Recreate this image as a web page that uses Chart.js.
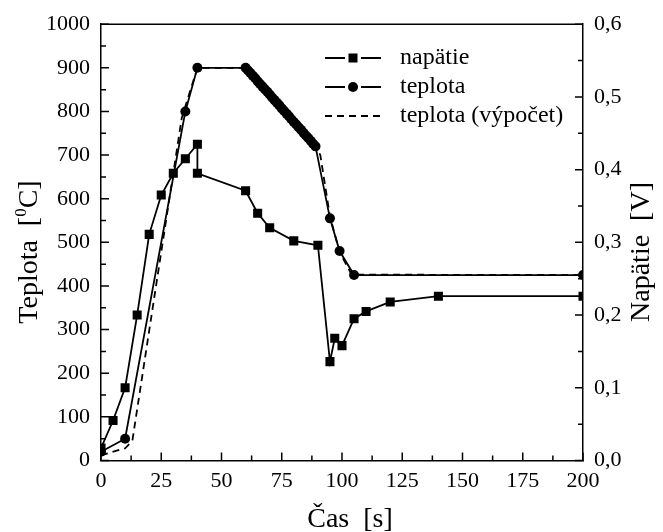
<!DOCTYPE html>
<html lang="sk">
<head>
<meta charset="UTF-8">
<title>Teplota a napätie</title>
<script src="https://cdn.jsdelivr.net/npm/chart.js"></script>
<style>
  body { margin: 0; background: #fff; }
  canvas { display: block; }
</style>
</head>
<body>
<canvas id="graf" width="663" height="532"></canvas>
<script>
// napätie [V]
const napatieX = [0, 5, 10, 15, 20, 25, 30, 35, 40, 40, 60, 65, 70, 80, 90, 95, 97, 100, 105, 110, 120, 140, 200];
const napatieV = [0.017, 0.055, 0.100, 0.200, 0.311, 0.365, 0.395, 0.415, 0.435, 0.395, 0.371, 0.340, 0.320, 0.302, 0.296, 0.136, 0.168, 0.158, 0.195, 0.205, 0.218, 0.226, 0.226];

// teplota (meranie) [0C]
const teplotaX = [0, 10, 35, 40, 60, 61, 62, 63, 64, 65, 66, 67, 68, 69, 70, 71, 72, 73, 74, 75, 76, 77, 78, 79, 80, 81, 82, 83, 84, 85, 86, 87, 88, 89, 95, 99, 105, 200];
const teplotaT = [20, 50, 800, 900, 900, 894, 888, 882, 876, 869, 863, 857, 851, 845, 839, 832, 826, 820, 814, 807, 801, 795, 789, 782, 776, 770, 764, 758, 751, 745, 739, 733, 726, 720, 555, 480, 425, 425];

// teplota (výpočet)
const vypocetX = [0, 10, 13, 33.5, 40, 60, 89, 91, 95, 99, 104, 200];
const vypocetT = [12, 28, 45, 785, 900, 900, 720, 700, 560, 478, 426, 425];

const xTicks = [0, 25, 50, 75, 100, 125, 150, 175, 200];

const FONT = '"Liberation Serif", "Times New Roman", serif';

function body(xs, ys) {
    return xs.map((x, i) => ({ x: x, y: ys[i] }));
}

// vnútorné značky osí, horný okraj, popisy osí a legenda
const kreslenie = {
    id: 'kreslenie',
    afterDraw(chart) {
        const ctx = chart.ctx;
        const a = chart.chartArea;
        const sx = chart.scales.x, sy = chart.scales.y, sv = chart.scales.y1;
        ctx.save();
        ctx.strokeStyle = '#000';
        ctx.fillStyle = '#000';
        ctx.lineWidth = 1.5;

        ctx.beginPath();
        ctx.moveTo(a.left, a.top);
        ctx.lineTo(a.right, a.top);
        ctx.stroke();

        ctx.beginPath();
        for (let v = 0; v <= 200; v += 12.5) {
            const px = sx.getPixelForValue(v);
            const len = v % 25 === 0 ? 8 : 5;
            ctx.moveTo(px, a.bottom);
            ctx.lineTo(px, a.bottom - len);
        }
        for (let v = 0; v <= 1000; v += 50) {
            const py = sy.getPixelForValue(v);
            const len = v % 100 === 0 ? 8 : 5;
            ctx.moveTo(a.left, py);
            ctx.lineTo(a.left + len, py);
        }
        for (let i = 0; i <= 12; i++) {
            const py = sv.getPixelForValue(i * 0.05);
            const len = i % 2 === 0 ? 8 : 5;
            ctx.moveTo(a.right, py);
            ctx.lineTo(a.right - len, py);
        }
        ctx.stroke();

        // popis osi x
        ctx.font = '28px ' + FONT;
        ctx.textAlign = 'center';
        ctx.textBaseline = 'alphabetic';
        ctx.fillText('Čas  [s]', 350, 527);

        // ľavá os
        ctx.save();
        ctx.translate(37, 252);
        ctx.rotate(-Math.PI / 2);
        const t1 = 'Teplota  [', t2 = '0', t3 = 'C]';
        ctx.font = '28px ' + FONT;
        const w1 = ctx.measureText(t1).width, w3 = ctx.measureText(t3).width;
        ctx.font = '17px ' + FONT;
        const w2 = ctx.measureText(t2).width;
        let x0 = -(w1 + w2 + w3) / 2;
        ctx.textAlign = 'left';
        ctx.font = '28px ' + FONT;
        ctx.fillText(t1, x0, 0);
        ctx.font = '17px ' + FONT;
        ctx.fillText(t2, x0 + w1, -11);
        ctx.font = '28px ' + FONT;
        ctx.fillText(t3, x0 + w1 + w2, 0);
        ctx.restore();

        // pravá os
        ctx.save();
        ctx.translate(649, 252);
        ctx.rotate(-Math.PI / 2);
        ctx.font = '28px ' + FONT;
        ctx.textAlign = 'center';
        ctx.fillText('Napätie  [V]', 0, 0);
        ctx.restore();

        // legenda
        const riadky = [
            { text: 'napätie', styl: 'rect', dash: [] },
            { text: 'teplota', styl: 'circle', dash: [] },
            { text: 'teplota (výpočet)', styl: null, dash: [7, 5] }
        ];
        ctx.font = '24px ' + FONT;
        ctx.textAlign = 'left';
        ctx.textBaseline = 'middle';
        riadky.forEach((r, i) => {
            const y = 58 + i * 29;
            ctx.setLineDash(r.dash);
            ctx.lineWidth = 1.8;
            ctx.beginPath();
            if (r.styl) {
                ctx.moveTo(325, y);
                ctx.lineTo(345, y);
                ctx.moveTo(361, y);
                ctx.lineTo(381, y);
            } else {
                ctx.moveTo(325, y);
                ctx.lineTo(381, y);
            }
            ctx.stroke();
            ctx.setLineDash([]);
            if (r.styl === 'rect') {
                ctx.fillRect(348.5, y - 4.5, 9, 9);
            } else if (r.styl === 'circle') {
                ctx.beginPath();
                ctx.arc(353, y, 5, 0, Math.PI * 2);
                ctx.fill();
            }
            ctx.fillText(r.text, 400, y);
        });
        ctx.restore();
    }
};

const ctx = document.getElementById('graf').getContext('2d');
new Chart(ctx, {
    type: 'line',
    data: {
        datasets: [
            {
                label: 'napätie',
                data: body(napatieX, napatieV),
                yAxisID: 'y1',
                borderColor: '#000',
                backgroundColor: '#000',
                borderWidth: 1.8,
                pointStyle: 'rect',
                pointRadius: 6.4,
                pointBorderWidth: 0,
                tension: 0
            },
            {
                label: 'teplota',
                data: body(teplotaX, teplotaT),
                yAxisID: 'y',
                borderColor: '#000',
                backgroundColor: '#000',
                borderWidth: 1.8,
                pointStyle: 'circle',
                pointRadius: 5,
                pointBorderWidth: 0,
                tension: 0
            },
            {
                label: 'teplota (výpočet)',
                data: body(vypocetX, vypocetT),
                yAxisID: 'y',
                borderColor: '#000',
                borderWidth: 1.8,
                borderDash: [7, 5],
                pointRadius: 0,
                tension: 0
            }
        ]
    },
    options: {
        responsive: false,
        animation: false,
        devicePixelRatio: 1,
        layout: { padding: { top: 22 } },
        plugins: { legend: { display: false }, tooltip: { enabled: false } },
        scales: {
            x: {
                type: 'linear',
                min: 0,
                max: 200,
                afterBuildTicks: s => { s.ticks = xTicks.map(v => ({ value: v })); },
                afterFit: s => { s.height = 71.5; },
                ticks: { color: '#000', font: { family: FONT, size: 22 }, padding: 8, maxRotation: 0 },
                grid: { display: false, drawTicks: false },
                border: { color: '#000', width: 1.5 }
            },
            y: {
                position: 'left',
                min: 0,
                max: 1000,
                afterFit: s => { s.width = 101; },
                ticks: {
                    stepSize: 100,
                    color: '#000',
                    font: { family: FONT, size: 22 },
                    padding: 11,
                    callback: v => String(v)
                },
                grid: { display: false, drawTicks: false },
                border: { color: '#000', width: 1.5 }
            },
            y1: {
                position: 'right',
                min: 0,
                max: 0.6,
                afterFit: s => { s.width = 80; },
                ticks: {
                    stepSize: 0.1,
                    color: '#000',
                    font: { family: FONT, size: 22 },
                    padding: 11,
                    callback: v => v.toFixed(1).replace('.', ',')
                },
                grid: { display: false, drawTicks: false },
                border: { color: '#000', width: 1.5 }
            }
        }
    },
    plugins: [kreslenie]
});
</script>
</body>
</html>
